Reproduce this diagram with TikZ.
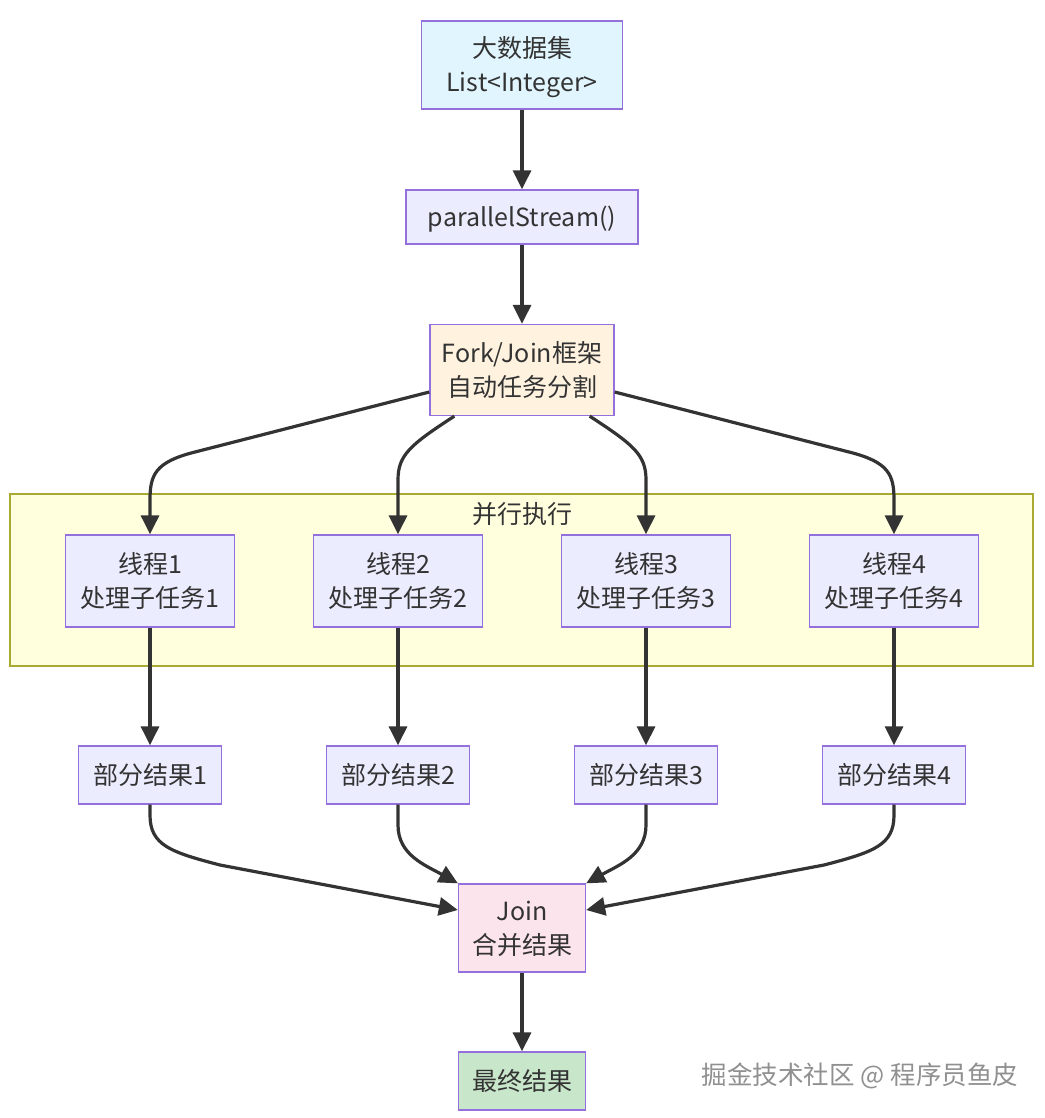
\documentclass[tikz,border=0pt]{standalone}
\usepackage{fontspec}
\setmainfont{Noto Sans CJK SC}
\usetikzlibrary{arrows.meta}
\definecolor{bord}{HTML}{9370DB}
\definecolor{defill}{HTML}{ECECFF}
\definecolor{bluefill}{HTML}{E1F5FE}
\definecolor{orangefill}{HTML}{FFF3E0}
\definecolor{pinkfill}{HTML}{FCE4EC}
\definecolor{greenfill}{HTML}{C8E6C9}
\definecolor{sgfill}{HTML}{FFFFDE}
\definecolor{sgbord}{HTML}{AAAA33}
\definecolor{txt}{HTML}{333333}
\definecolor{wm}{HTML}{909090}
\newcommand\mytxt[1]{\raisebox{-3pt}[\height][\depth]{\begin{tabular}{@{}c@{}}#1\end{tabular}}}
\tikzset{
  box/.style={draw=bord, line width=1.3pt, fill=defill, inner sep=0pt,
    text=txt, font=\fontsize{25}{34}\selectfont},
  arr/.style={draw=txt, line width=3.2pt, -{Triangle[length=19pt,width=18pt]}},
}
\begin{document}
\begin{tikzpicture}[x=1pt,y=-1pt]
\useasboundingbox[fill=white] (0,0) rectangle (1044,1118);
% subgraph
\draw[draw=sgbord, fill=sgfill, line width=1.2pt] (10,494) rectangle (1033,666);
\node[text=txt, font=\fontsize{25}{34}\selectfont] (sgtitle) at (522,514) {并行执行};
% nodes
\node[box, fill=bluefill, minimum width=201pt, minimum height=88pt] (A) at (522,65) {\mytxt{大数据集\\List<Integer>}};
\node[box, minimum width=232pt, minimum height=54pt] (B) at (522,217) {\mytxt{parallelStream()}};
\node[box, fill=orangefill, minimum width=184pt, minimum height=91pt] (C) at (522,370) {\mytxt{Fork/Join框架\\自动任务分割}};
\foreach \i/\x in {1/150,2/398,3/646,4/894}{
  \node[box, minimum width=169pt, minimum height=92pt] (T\i) at (\x,581) {\mytxt{线程\i\\处理子任务\i}};
  \node[box, minimum width=143pt, minimum height=58pt] (R\i) at (\x,775) {\mytxt{部分结果\i}};
}
\node[box, fill=pinkfill, minimum width=127pt, minimum height=88pt] (J) at (522,928) {\mytxt{Join\\合并结果}};
\node[box, fill=greenfill, minimum width=127pt, minimum height=58pt] (F) at (522,1081) {\mytxt{最终结果}};
% edges
\draw[arr] (A) -- (B);
\draw[arr] (B) -- (C);
\draw[arr] ([yshift=-22pt]C.west) -- (195,452) .. controls (155,462) and (150,475) .. (150,500) -- (T1.north);
\draw[arr] ([xshift=25pt]C.south west) .. controls (410,445) and (398,455) .. (398,480) -- (T2.north);
\draw[arr] ([xshift=-25pt]C.south east) .. controls (634,445) and (646,455) .. (646,480) -- (T3.north);
\draw[arr] ([yshift=-22pt]C.east) -- (849,452) .. controls (889,462) and (894,475) .. (894,500) -- (T4.north);
\foreach \i in {1,2,3,4}{ \draw[arr] (T\i) -- (R\i); }
\draw[arr] (R1.south) -- (150,815) .. controls (150,845) and (170,852) .. (220,865) -- ([yshift=18pt]J.west);
\draw[arr] (R2.south) -- (398,825) .. controls (398,855) and (425,865) .. (J.north west);
\draw[arr] (R3.south) -- (646,825) .. controls (646,855) and (619,865) .. (J.north east);
\draw[arr] (R4.south) -- (894,815) .. controls (894,845) and (874,852) .. (824,865) -- ([yshift=18pt]J.east);
\draw[arr] (J) -- (F);
% watermark
\node[text=wm, font=\fontsize{25.5}{30}\selectfont] (wmk) at (860,1076) {掘金技术社区 @ 程序员鱼皮};
\end{tikzpicture}
\end{document}
